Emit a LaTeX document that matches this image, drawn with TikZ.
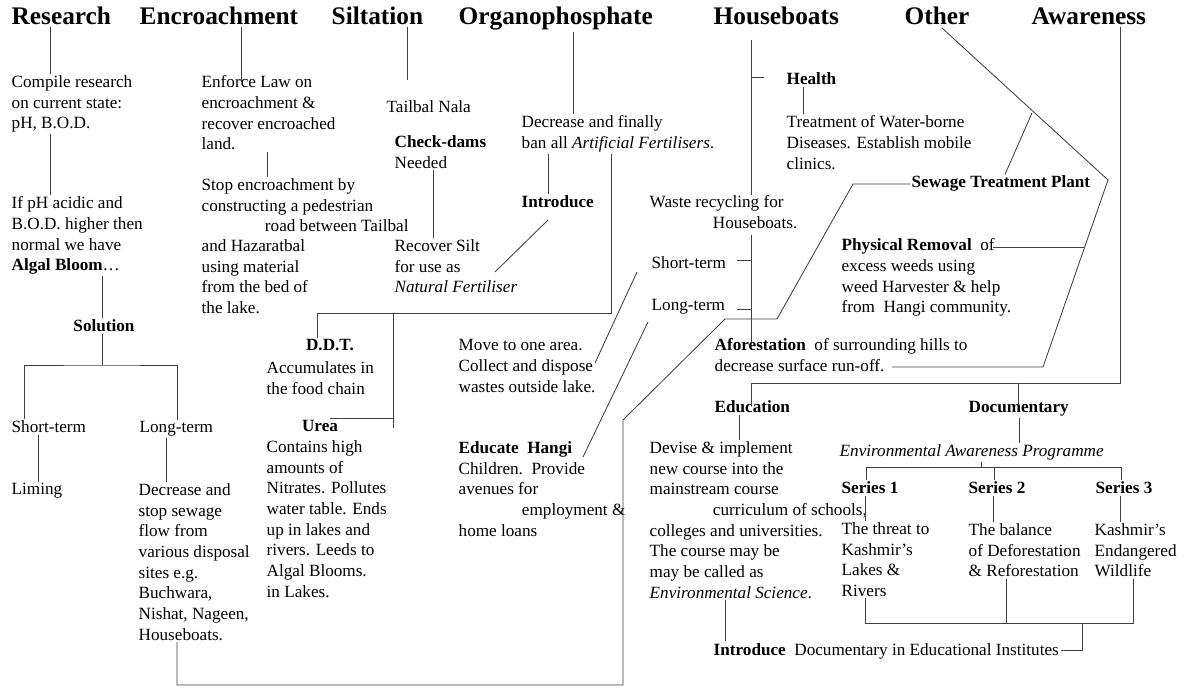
\documentclass[tikz,border=0pt]{standalone}
\usepackage{fontspec}
\setmainfont{Liberation Serif}
\usepackage{tikz}

\begin{document}
\begin{tikzpicture}[x=0.025cm, y=-0.025cm,
	head/.style={anchor=base west, inner sep=1pt, font=\fontsize{18}{21}\selectfont\bfseries},
	txt/.style={anchor=north west, align=left, inner sep=1pt, font=\fontsize{12.2}{14.7}\selectfont},
	lbl/.style={anchor=base west, inner sep=1pt, font=\fontsize{12.2}{14.7}\selectfont},
	blbl/.style={lbl, font=\fontsize{12.2}{14.7}\selectfont\bfseries},
	ln/.style={draw=black!75, line width=0.6pt}]
		\useasboundingbox[fill=white] (0,0) rectangle (1185,688);
		% headings
		\node[head] (hres) at (10,25) {Research};
		\node[head] (henc) at (138,25) {Encroachment};
		\node[head] (hsil) at (330,25) {Siltation};
		\node[head] (horg) at (457,25) {Organophosphate};
		\node[head] (hhb) at (712,25) {Houseboats};
		\node[head] (hoth) at (903,25) {Other};
		\node[head] (hawa) at (1030,25) {Awareness};
		% research
		\node[txt] (compile) at (10,74) {Compile research\\on current state:\\pH, B.O.D.};
		\node[txt] (ifph) at (10,195) {If pH acidic and\\B.O.D.\ higher then\\normal we have\\\textbf{Algal Bloom}\ldots};
		\node[blbl, anchor=base] (solution) at (104,332) {Solution};
		\node[lbl] (shortA) at (10,433) {Short-term};
		\node[lbl] (longA) at (138,433) {Long-term};
		\node[lbl] (liming) at (10,495) {Liming};
		\node[txt] (decsew) at (137,482) {Decrease and\\stop sewage\\flow from\\various disposal\\sites e.g.\\Buchwara,\\Nishat, Nageen,\\Houseboats.};
		% encroachment
		\node[txt] (enforce) at (200,74) {Enforce Law on\\encroachment \&\\recover encroached\\land.};
		\node[txt] (stopenc) at (200,177) {Stop encroachment by\\constructing a pedestrian\\\hspace*{45pt}road between Tailbal};
		\node[txt] (hazarat) at (200,238) {and Hazaratbal\\using material\\from the bed of\\the lake.};
		% siltation
		\node[lbl] (tailbal) at (385,113) {Tailbal Nala};
		\node[txt] (checkd) at (393,134) {\textbf{Check-dams}\\Needed};
		\node[txt] (recsilt) at (393,238) {Recover Silt\\for use as\\\textit{Natural Fertiliser}};
		% organophosphate
		\node[txt] (decfert) at (520,114) {Decrease and finally\\ban all \textit{Artificial Fertilisers}.};
		\node[blbl] (introA) at (520,208) {Introduce};
		\node[blbl, anchor=base] (ddt) at (330,351) {D.D.T.};
		\node[txt] (accum) at (265,360) {Accumulates in\\the food chain};
		\node[blbl, anchor=base] (urea) at (320,432) {Urea};
		\node[txt] (contains) at (265,439) {Contains high\\amounts of\\Nitrates. Pollutes\\water table. Ends\\up in lakes and\\rivers. Leeds to\\Algal Blooms.\\in Lakes.};
		% houseboats
		\node[blbl] (health) at (785,85) {Health};
		\node[txt] (treat) at (785,114) {Treatment of Water-borne\\Diseases. Establish mobile\\clinics.};
		\node[txt] (waste) at (648,194) {Waste recycling for\\\hspace*{45pt}Houseboats.};
		\node[lbl] (shortB) at (650,269) {Short-term};
		\node[lbl] (longB) at (650,311) {Long-term};
		\node[txt] (moveone) at (457,338) {Move to one area.\\Collect and dispose\\wastes outside lake.};
		\node[txt] (educh) at (457,440) {\textbf{Educate\ \ Hangi}\\Children.\ \ Provide\\avenues for\\\hspace*{45pt}employment \&\\home loans};
		% other
		\node[blbl] (sewage) at (910,188) {Sewage Treatment Plant};
		\node[txt] (physrem) at (840,237) {\textbf{Physical Removal}\ \ of\\excess weeds using\\weed Harvester \& help\\from\ \ Hangi community.};
		\node[txt] (afore) at (713,337) {\textbf{Aforestation}\ \ of surrounding hills to\\decrease surface run-off.};
		% awareness
		\node[blbl] (educ) at (713,413) {Education};
		\node[blbl] (docu) at (967,413) {Documentary};
		\node[lbl, font=\fontsize{12.2}{14.7}\selectfont\itshape] (envawa) at (838,457) {Environmental Awareness Programme};
		\node[txt] (devise) at (648,440) {Devise \& implement\\new course into the\\mainstream course\\\hspace*{45pt}curriculum of schools,\\colleges and universities.\\The course may be\\may be called as\\\textit{Environmental Science}.};
		\node[blbl] (ser1) at (840,494) {Series 1};
		\node[blbl] (ser2) at (967,494) {Series 2};
		\node[blbl] (ser3) at (1094,494) {Series 3};
		\node[txt] (ser1t) at (840,521) {The threat to\\Kashmir’s\\Lakes \&\\Rivers};
		\node[txt] (ser2t) at (967,522) {The balance\\of Deforestation\\\& Reforestation};
		\node[txt] (ser3t) at (1093,522) {Kashmir’s\\Endangered\\Wildlife};
		\node[lbl] (introB) at (712,655) {\textbf{Introduce}\ \ Documentary in Educational Institutes};
		% connectors
		\draw[ln] (50,0|-hres.south) -- (50,0|-compile.north);
		\draw[ln] (50,0|-compile.south) -- (50,0|-ifph.north);
		\draw[ln] (102,0|-ifph.south) -- (102,0|-solution.north);
		\draw[ln] (102,0|-solution.south) -- (102,365) coordinate (solsplit);
		\draw[ln] (24,0|-shortA.north) |- (solsplit) -| (177,0|-longA.north);
		\draw[ln] (38,0|-shortA.south) -- (38,0|-liming.north);
		\draw[ln] (166,0|-longA.south) -- (166,0|-decsew.north);
		\draw[ln] (241,0|-henc.south) -- (241,82);
		\draw[ln] (267,0|-enforce.south) -- (267,0|-stopenc.north);
		\draw[ln] (407,0|-hsil.south) -- (407,80);
		\draw[ln] (433,0|-checkd.south) -- (433,0|-recsilt.north);
		\draw[ln] (573,0|-horg.south) -- (573,0|-decfert.north);
		\draw[ln] (548,0|-decfert.south) -- (548,0|-introA.north);
		\draw[ln] (548,220) -- (495,272);
		\draw[ln] (611,0|-decfert.south) -- (611,313) -| (317,0|-ddt.north);
		\draw[ln] (393,313) -- (393,428);
		\draw[ln] (393,418) -- (330,418);
		\draw[ln] (751,40) -- (751,195);
		\draw[ln] (751,77) -- (764,77);
		\draw[ln] (803,0|-health.south) -- (803,0|-treat.north);
		\draw[ln] (751,235) -- (751,342);
		\draw[ln] (737,260) -- (751,260);
		\draw[ln] (737,309) -- (751,309);
		\draw[ln] (637,272) -- (595,363);
		\draw[ln] (648,322) -- (583,457);
		\draw[ln] (177,0|-decsew.south) -- (177,685) -- (623,685) -- (623,420) -- (725,319) -- (777,319) -- (853,184) -- (sewage.west);
		\draw[ln] (942,28) -- (1108,180) -- (1043,367) -- (892,367);
		\draw[ln] (1032,113) -- (1005,0|-sewage.north);
		\draw[ln] (993,247) -- (1085,247);
		\draw[ln] (1120,0|-hawa.south) -- (1120,383) -- (751,383) -- (751,405);
		\draw[ln] (1018,383) -- (1018,405);
		\draw[ln] (1019,0|-docu.south) -- (1019,0|-envawa.north);
		\draw[ln] (739,0|-educ.south) -- (739,0|-devise.north);
		\draw[ln] (981,0|-envawa.south) -- (981,467);
		\draw[ln] (866,0|-ser1.north) |- (1121,467) -- (1121,0|-ser3.north);
		\draw[ln] (994,467) -- (994,0|-ser2.north);
		\draw[ln] (865,0|-ser1.south) -- (865,0|-ser1t.north);
		\draw[ln] (993,0|-ser2.south) -- (993,0|-ser2t.north);
		\draw[ln] (1120,0|-ser3.south) -- (1120,0|-ser3t.north);
		\draw[ln] (865,0|-ser1t.south) -- (865,623) -- (1133,623) -- (1133,0|-ser3t.south);
		\draw[ln] (1006,0|-ser2t.south) -- (1006,623);
		\draw[ln] (1082,623) |- (introB.east);
		\draw[ln] (725,0|-devise.south) -- (725,0|-introB.north);
\end{tikzpicture}
\end{document}
